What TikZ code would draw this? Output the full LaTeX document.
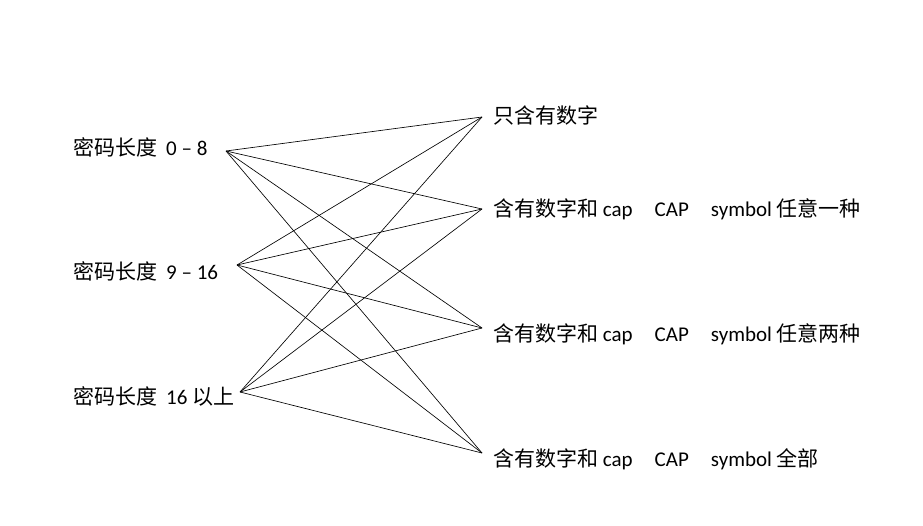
\documentclass[tikz,border=0pt]{standalone}
\usepackage{fontspec}
\setmainfont{Carlito}
\newfontfamily\cjk{Noto Sans CJK SC}
\usepackage{tikz}
\usetikzlibrary{positioning}

\tikzset{
  lbl/.style={anchor=west,inner sep=0pt,font=\fontsize{21}{25}\selectfont},
  link/.style={line width=0.65pt,black}
}

\begin{document}
\begin{tikzpicture}[x=1pt,y=-1pt]
        \useasboundingbox (0,0) rectangle (923,526);
        % password length
        \node[lbl] (len1) at (73,147) {{\cjk 密码长度}\hspace{9pt}0 -- 8};
        \node[lbl] (len2) at (73,271) {{\cjk 密码长度}\hspace{9pt}9 -- 16};
        \node[lbl] (len3) at (73,396) {{\cjk 密码长度}\hspace{9pt}16 {\cjk 以上}};
        % character classes
        \node[lbl] (cls1) at (493,115) {\cjk 只含有数字};
        \node[lbl] (cls2) at (493,209) {{\cjk 含有数字和} cap\hspace{22pt}CAP\hspace{22pt}symbol {\cjk 任意一种}};
        \node[lbl] (cls3) at (493,334) {{\cjk 含有数字和} cap\hspace{22pt}CAP\hspace{22pt}symbol {\cjk 任意两种}};
        \node[lbl] (cls4) at (493,459) {{\cjk 含有数字和} cap\hspace{22pt}CAP\hspace{22pt}symbol {\cjk 全部}};
        % line ends
        \coordinate (l1) at (226,151);
        \coordinate (l2) at (237,265);
        \coordinate (l3) at (240,392);
        \coordinate (r1) at (482,117);
        \coordinate (r2) at (482,209);
        \coordinate (r3) at (482,328);
        \coordinate (r4) at (482,453);
        \foreach \a in {l1,l2,l3}
          \foreach \b in {r1,r2,r3,r4}
            \draw[link] (\a)--(\b);
      \end{tikzpicture}
\end{document}
